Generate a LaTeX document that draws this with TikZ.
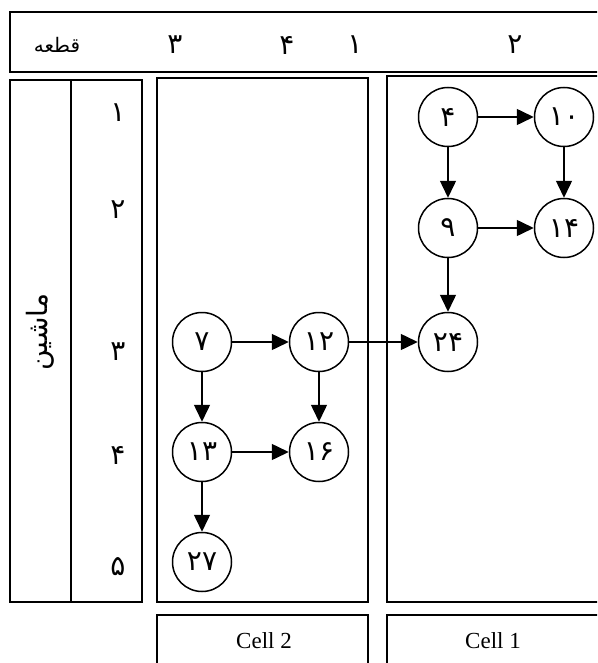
\documentclass[tikz,border=0pt]{standalone}
\usepackage{fontspec}
\setmainfont{Liberation Serif}
\newfontfamily\fa[Script=Arabic]{DejaVu Sans}
\TeXXeTstate=1
\usetikzlibrary{arrows.meta}

\begin{document}
\begin{tikzpicture}[x=1pt,y=-1pt,
  frame/.style={draw, line width=1.7pt},
  job/.style={circle, draw, line width=1.5pt, minimum size=59pt, inner sep=0pt,
              font=\fa\fontsize{28}{28}\selectfont},
  flow/.style={-{Triangle[length=17pt,width=16pt]}, line width=1.5pt},
  digit/.style={font=\fa\fontsize{28}{28}\selectfont, inner sep=0pt},
  word/.style={font=\fa\fontsize{20}{20}\selectfont, inner sep=0pt},
  celltxt/.style={font=\fontsize{23}{23}\selectfont, inner sep=0pt}]
\useasboundingbox (0,0) rectangle (597,663);
\clip (0,0) rectangle (597,663);

% part header
\draw[frame] (10,12) rectangle (620,72);
\node[word] (hpart) at (57,45) {\beginR قطعه\endR};
\node[digit] (h3) at (175,45) {۳};
\node[digit] (h4) at (287,45) {۴};
\node[digit] (h1) at (355,45) {۱};
\node[digit] (h2) at (515,45) {۲};

% machine table
\draw[frame] (10,80) rectangle (142,602);
\draw[frame] (71,80) -- (71,602);
\node[word, font=\fa\fontsize{28}{28}\selectfont, rotate=90] (mach) at (40,332) {\beginR ماشین\endR};
\node[digit] (m1) at (118,113) {۱};
\node[digit] (m2) at (118,210) {۲};
\node[digit] (m3) at (118,352) {۳};
\node[digit] (m4) at (118,455) {۴};
\node[digit] (m5) at (118,567) {۵};

% cell frames
\draw[frame] (157,78) rectangle (368,602);
\draw[frame] (387,76) rectangle (620,602);
\draw[frame] (157,615) rectangle (368,690);
\draw[frame] (387,615) rectangle (620,690);
\node[celltxt] (c2) at (264,641) {Cell 2};
\node[celltxt] (c1) at (493,641) {Cell 1};

% jobs in cell 1
\node[job] (n4)  at (448,117) {۴};
\node[job] (n10) at (564,117) {۱۰};
\node[job] (n9)  at (448,228) {۹};
\node[job] (n14) at (564,228) {۱۴};
\node[job] (n24) at (448,342) {۲۴};

% jobs in cell 2
\node[job] (n7)  at (202,342) {۷};
\node[job] (n12) at (319,342) {۱۲};
\node[job] (n13) at (202,452) {۱۳};
\node[job] (n16) at (319,452) {۱۶};
\node[job] (n27) at (202,562) {۲۷};

% flows
\draw[flow] (n4) -- (n10);
\draw[flow] (n4) -- (n9);
\draw[flow] (n10) -- (n14);
\draw[flow] (n9) -- (n14);
\draw[flow] (n9) -- (n24);
\draw[flow] (n7) -- (n12);
\draw[flow] (n7) -- (n13);
\draw[flow] (n12) -- (n16);
\draw[flow] (n13) -- (n16);
\draw[flow] (n13) -- (n27);
\draw[flow] (n12) -- (n24);
\end{tikzpicture}
\end{document}
